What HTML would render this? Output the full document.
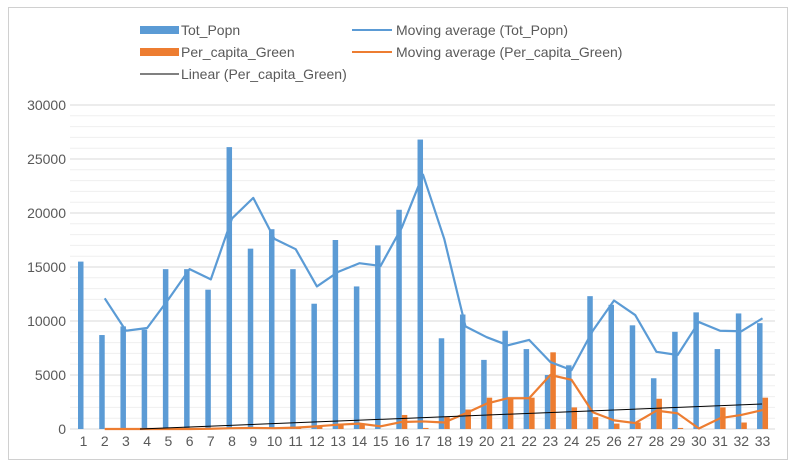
<!DOCTYPE html>
<html><head><meta charset="utf-8"><style>
html,body{margin:0;padding:0;background:#fff;width:799px;height:467px;overflow:hidden}
svg{display:block;font-family:"Liberation Sans",sans-serif}
</style></head><body>
<svg id="s" width="799" height="467" xmlns="http://www.w3.org/2000/svg"></svg>
<script>
const B=[15500,8700,9500,9200,14800,14800,12900,26100,16700,18500,14800,11600,17500,13200,17000,20300,26800,8400,10600,6400,9100,7400,5000,5900,12300,11500,9600,4700,9000,10800,7400,10700,9800];
const O=[0,0,0,0,0,0,50,100,100,50,200,300,500,500,0,1300,100,1100,1800,2900,2800,2900,7100,2000,1100,500,600,2800,100,0,2000,600,2900];
const y=v=>429-v*0.0108, cx=i=>83.5+i*21.22;
let s='<rect x="8.5" y="7.5" width="779" height="452" fill="#fff" stroke="#d0d0d0"/>';
for(let k=1;k<=30;k++){const yy=y(k*1000);s+=`<line x1="70" x2="775" y1="${yy}" y2="${yy}" stroke="${k%5?'#efefef':'#d9d9d9'}" stroke-width="1"/>`;}
for(let k=0;k<=6;k++)s+=`<text x="66" y="${y(k*5000)+5}" text-anchor="end" font-size="14" fill="#595959">${k*5000}</text>`;
s+=`<line x1="70" x2="775" y1="429" y2="429" stroke="#d9d9d9"/>`;
B.forEach((v,i)=>{s+=`<rect x="${cx(i)-5.5}" y="${y(v)}" width="5.5" height="${429-y(v)}" fill="#5b9bd5"/>`;});
O.forEach((v,i)=>{if(v>0)s+=`<rect x="${cx(i)}" y="${y(v)}" width="5.5" height="${429-y(v)}" fill="#ed7d31"/>`;});
for(let i=0;i<33;i++)s+=`<text x="${cx(i)}" y="446" text-anchor="middle" font-size="14" fill="#595959">${i+1}</text>`;
const ma=a=>a.slice(1).map((v,j)=>`${cx(j+1)},${y((v+a[j])/2)}`).join(' ');
s+=`<polyline points="${ma(B)}" fill="none" stroke="#5b9bd5" stroke-width="2.2" stroke-linejoin="round"/>`;
s+=`<polyline points="${ma(O)}" fill="none" stroke="#ed7d31" stroke-width="2.2" stroke-linejoin="round"/>`;
s+=`<line x1="140" y1="429" x2="762" y2="404" stroke="#000" stroke-width="1"/>`;
const t=(x,yy,str)=>`<text x="${x}" y="${yy+5}" font-size="14" fill="#595959">${str}</text>`;
s+=`<rect x="140" y="26" width="39" height="8" fill="#5b9bd5"/>`+t(181,30,'Tot_Popn');
s+=`<rect x="140" y="48" width="39" height="8" fill="#ed7d31"/>`+t(181,52,'Per_capita_Green');
s+=`<line x1="140" x2="179" y1="74" y2="74" stroke="#000"/>`+t(181,74,'Linear (Per_capita_Green)');
s+=`<line x1="352" x2="392" y1="30" y2="30" stroke="#5b9bd5" stroke-width="2"/>`+t(396,30,'Moving average (Tot_Popn)');
s+=`<line x1="352" x2="392" y1="52" y2="52" stroke="#ed7d31" stroke-width="2"/>`+t(396,52,'Moving average (Per_capita_Green)');
document.getElementById('s').innerHTML=s;
</script>
</body></html>
